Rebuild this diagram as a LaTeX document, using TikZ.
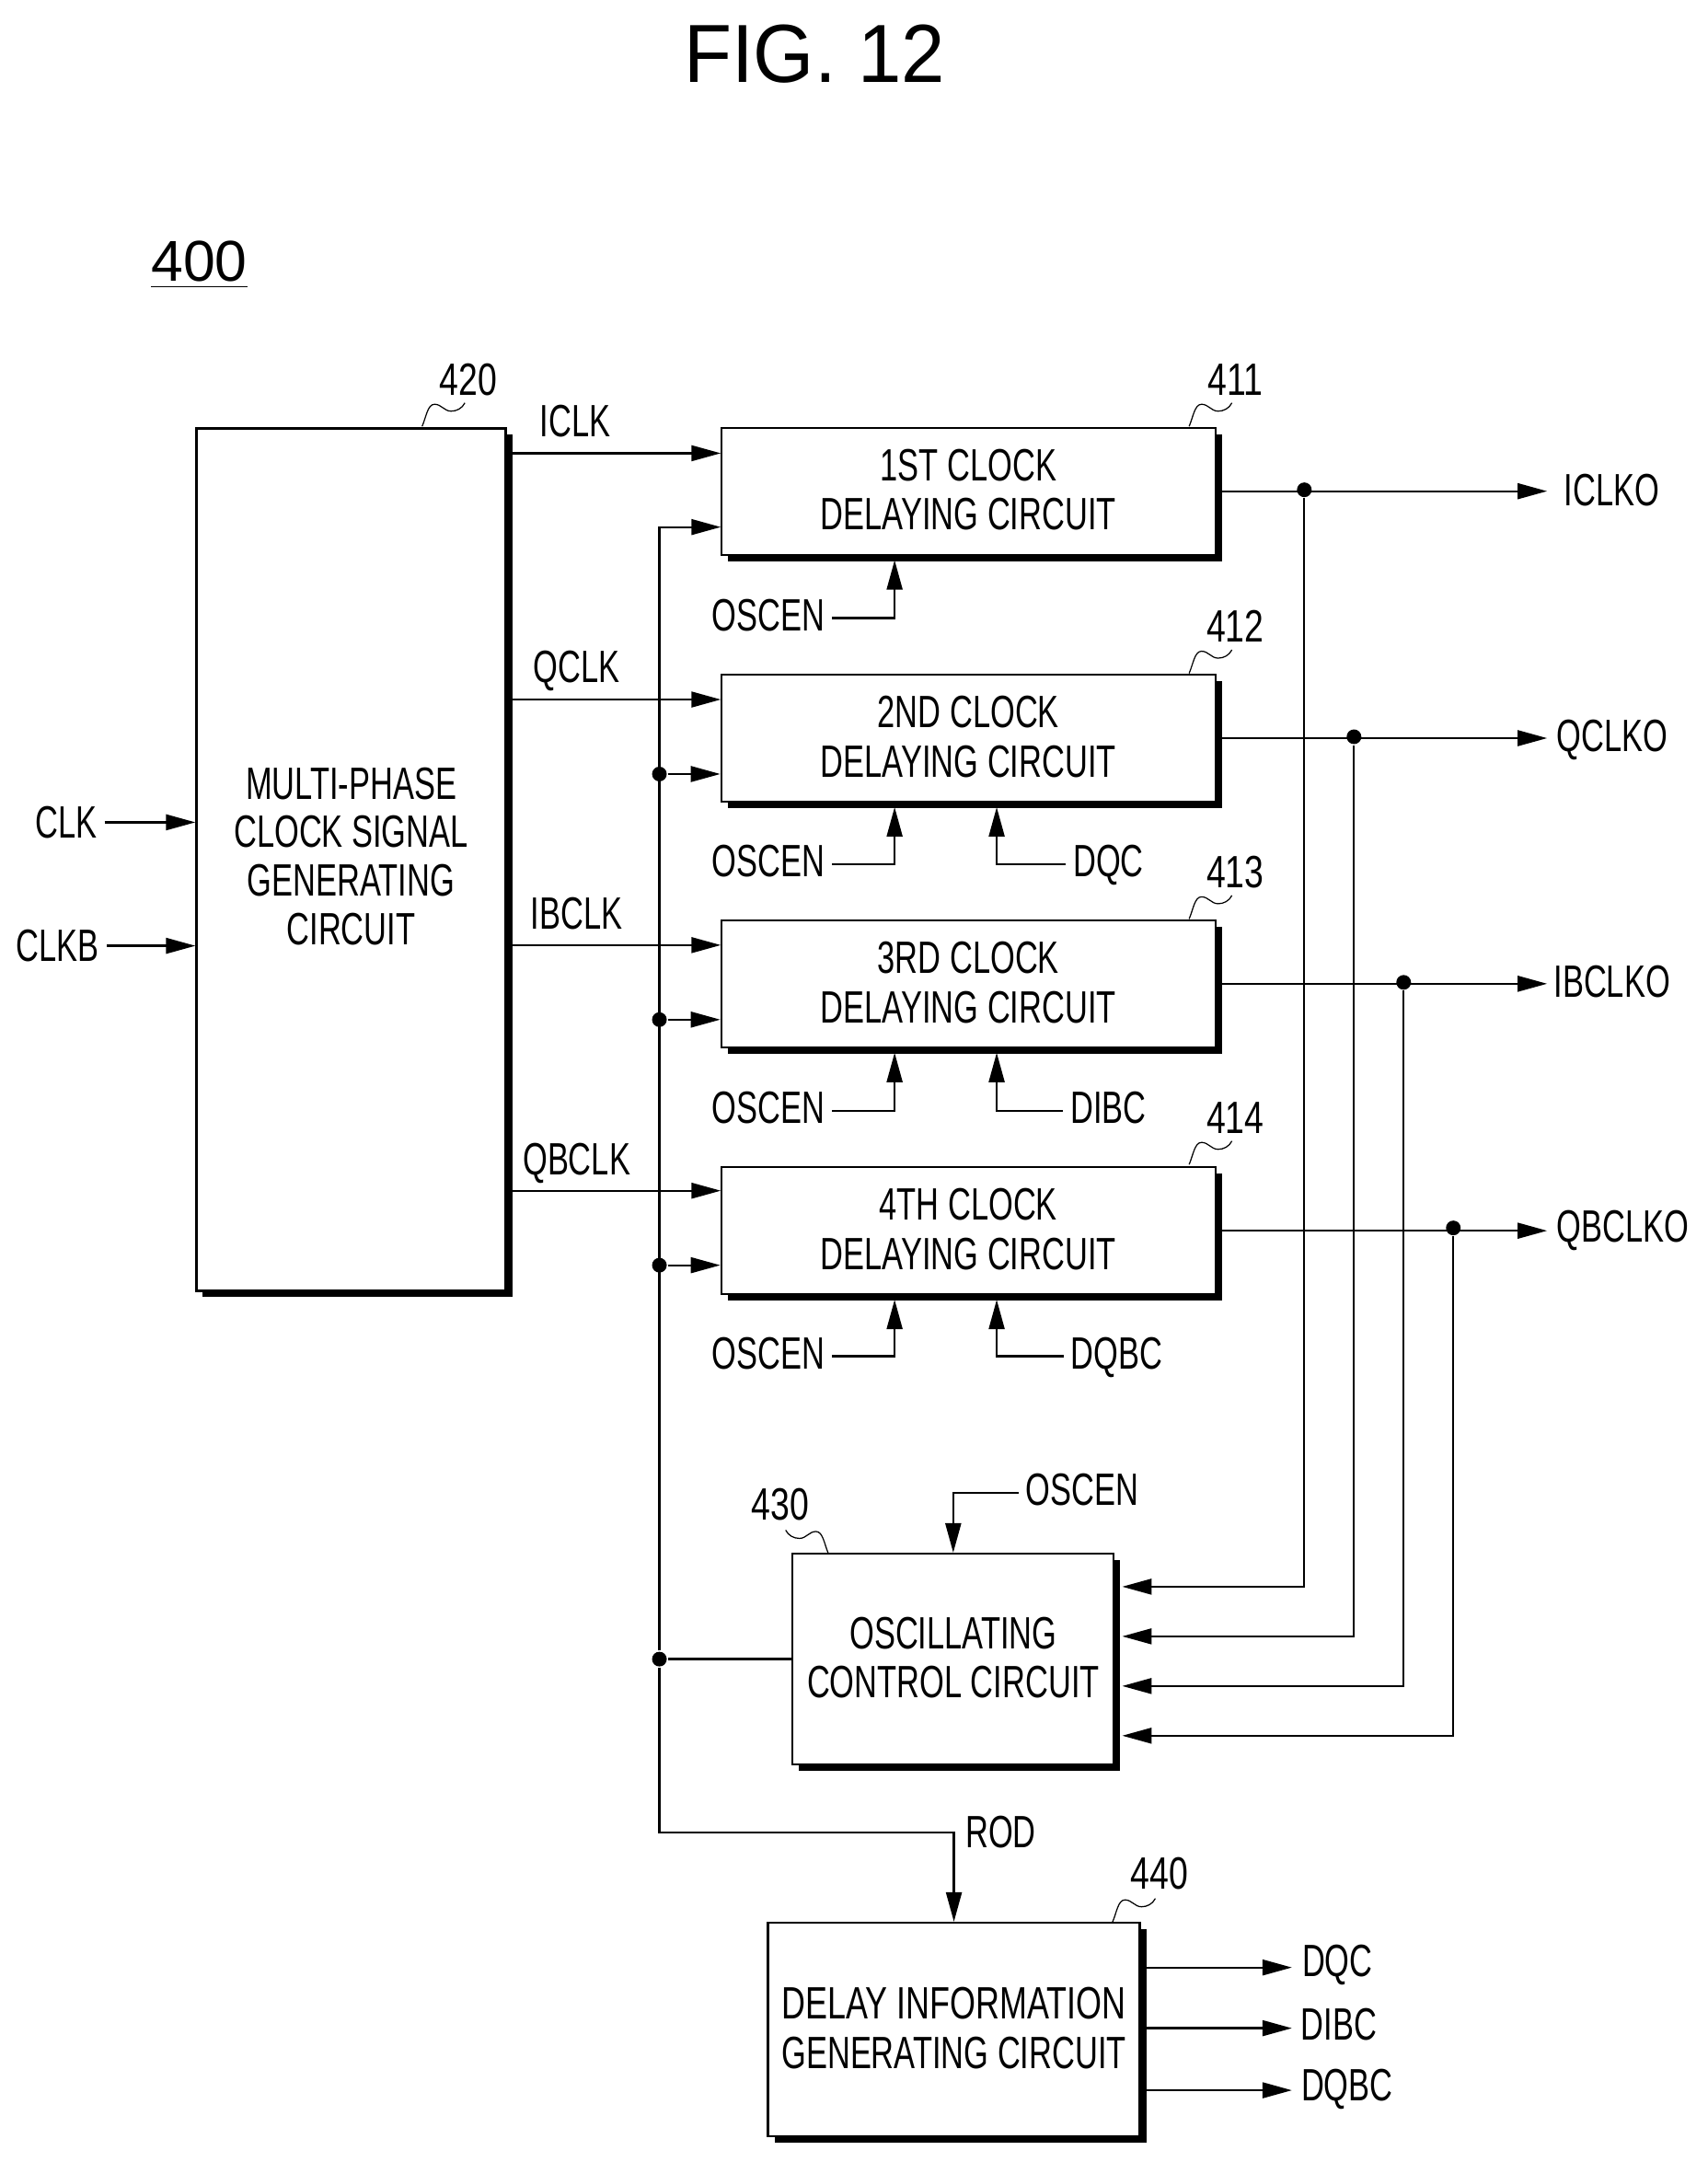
\documentclass[tikz,border=0pt]{standalone}
\usepackage{fontspec}
\setmainfont[FakeStretch=0.7]{Liberation Sans}
\newfontfamily\figfont[FakeStretch=0.95]{Liberation Sans}
\newfontfamily\numfont{Liberation Sans}
\newfontfamily\reffont[FakeStretch=0.76]{Liberation Sans}
\usetikzlibrary{arrows.meta,shadows}
\newcommand{\leadcurve}{(0,0) .. controls (3,-7) and (4,-16) .. (9,-16) .. controls (14,-16) and (16,-11) .. (21,-11) .. controls (25,-11) and (29,-13) .. (31,-17)}
\begin{document}
\begin{tikzpicture}[x=0.1499mm, y=-0.1499mm, line width=0.65pt,
	>={Triangle[length=3.2mm,width=1.7mm]},
	sig/.style = {inner sep=2pt, text depth=0pt, font=\fontsize{14}{15}\selectfont},
	sigl/.style = {sig, text depth=2pt},
	num/.style = {inner sep=2pt, text depth=0pt, font=\reffont\fontsize{14}{15}\selectfont},
	main/.style = {draw, fill=white, inner sep=0pt, align=center, text depth=1pt, font=\fontsize{14}{15.3}\selectfont,
		drop shadow={shadow xshift=0.7mm, shadow yshift=-0.7mm, fill=black, opacity=1}},
	delay/.style = {main, minimum width=53.7mm, minimum height=13.8mm},
	dot/.style = {circle, fill, inner sep=0pt, minimum size=1.6mm},
	lead/.style = {line width=0.35pt}]

	\useasboundingbox (-0.5,0) rectangle (1237,1567);

	\node[font=\figfont\fontsize{25.5}{26}\selectfont] (fig) at (590,39) {FIG. 12};
	\node[font=\numfont\fontsize{17.8}{18}\selectfont] (sys) at (144,192) {\underline{400}};

	% blocks
	\node[main, minimum width=33.6mm, minimum height=93.7mm, text depth=2.2pt, font=\fontsize{14}{15}\selectfont] (mpc) at (254,623) {MULTI-PHASE\\CLOCK SIGNAL\\GENERATING\\CIRCUIT};
	\node[delay] (d1) at (701.5,356) {1ST CLOCK\\DELAYING CIRCUIT};
	\node[delay] (d2) at (701.5,535) {2ND CLOCK\\DELAYING CIRCUIT};
	\node[delay] (d3) at (701.5,713) {3RD CLOCK\\DELAYING CIRCUIT};
	\node[delay] (d4) at (701.5,892) {4TH CLOCK\\DELAYING CIRCUIT};
	\node[main, minimum width=34.9mm, minimum height=22.9mm] (osc) at (690.5,1202.5) {OSCILLATING\\CONTROL CIRCUIT};
	\node[main, minimum width=40.4mm, minimum height=23.2mm] (dig) at (691,1471) {{\addfontfeature{FakeStretch=0.73}DELAY INFORMATION}\\GENERATING CIRCUIT};

	% reference numbers
	\node[num] (n420) at (339,275) {420};
	\node[num] (n411) at (895,275) {411};
	\node[num] (n412) at (895,454) {412};
	\node[num] (n413) at (895,632) {413};
	\node[num] (n414) at (895,810) {414};
	\node[num] (n430) at (565,1090) {430};
	\node[num] (n440) at (840,1358) {440};
	\draw[lead, shift={(305.5,309)}] \leadcurve;
	\draw[lead, shift={(861.5,309)}] \leadcurve;
	\draw[lead, shift={(861.5,488)}] \leadcurve;
	\draw[lead, shift={(861.5,666)}] \leadcurve;
	\draw[lead, shift={(861.5,844)}] \leadcurve;
	\draw[lead, shift={(600,1126)}, xscale=-1] \leadcurve;
	\draw[lead, shift={(806,1393)}] \leadcurve;

	% signal names
	\node[sig] (clk) at (47.5,596) {CLK};
	\node[sig] (clkb) at (41.5,685.5) {CLKB};
	\node[sig] (iclk) at (416.5,305) {ICLK};
	\node[sig] (qclk) at (417.5,483) {QCLK};
	\node[sig] (ibclk) at (417.5,662) {IBCLK};
	\node[sig] (qbclk) at (417.5,840) {QBCLK};
	\node[sigl] (os1) at (556.5,448) {OSCEN};
	\node[sigl] (os2) at (556.5,626.5) {OSCEN};
	\node[sigl] (os3) at (556.5,805) {OSCEN};
	\node[sigl] (os4) at (556.5,983) {OSCEN};
	\node[sigl] (os5) at (784,1082) {OSCEN};
	\node[sigl] (dqc) at (803,626.5) {DQC};
	\node[sigl] (dibc) at (803,805) {DIBC};
	\node[sigl] (dqbc) at (809,983) {DQBC};
	\node[sig] (iclko) at (1168,355) {ICLKO};
	\node[sig] (qclko) at (1168,533) {QCLKO};
	\node[sig] (ibclko) at (1168,711) {IBCLKO};
	\node[sig] (qbclko) at (1176,889) {QBCLKO};
	\node[sig] (rod) at (725,1328) {ROD};
	\node[sig] (dqcout) at (969,1421) {DQC};
	\node[sig] (dibcout) at (970,1467) {DIBC};
	\node[sig] (dqbcout) at (976,1511) {DQBC};

	% junctions
	\node[dot] (j1) at (945,355) {};
	\node[dot] (j2) at (981,534) {};
	\node[dot] (j3) at (1017,712) {};
	\node[dot] (j4) at (1053,890) {};
	\node[dot] (b2) at (477.5,561) {};
	\node[dot] (b3) at (477.5,739) {};
	\node[dot] (b4) at (477.5,917) {};
	\node[dot] (b5) at (477.5,1202.5) {};

	% ports
	\coordinate (d1a) at (522,328.5);
	\coordinate (d2a) at (522,507);
	\coordinate (d3a) at (522,685);
	\coordinate (d4a) at (522,863);
	\coordinate (d1b) at (522,382);
	\coordinate (d1o) at (648,406);
	\coordinate (d2o) at (648,585);
	\coordinate (d3o) at (648,763);
	\coordinate (d4o) at (648,942);
	\coordinate (d2q) at (722,585);
	\coordinate (d3q) at (722,763);
	\coordinate (d4q) at (722,942);
	\coordinate (o1) at (813,1150);
	\coordinate (o2) at (813,1186);
	\coordinate (o3) at (813,1222);
	\coordinate (o4) at (813,1258);
	\coordinate (bend) at (477.5,1328);
	\coordinate (e1) at (936,1426);
	\coordinate (e2) at (936,1470);
	\coordinate (e3) at (936,1515);
	\coordinate (tip) at (1121,0);

	\draw[->] (clk.east) -- (clk.east -| mpc.west);
	\draw[->] (clkb.east) -- (clkb.east -| mpc.west);

	\draw[->] (mpc.east |- d1a) -- (d1a);
	\draw[->] (mpc.east |- d2a) -- (d2a);
	\draw[->] (mpc.east |- d3a) -- (d3a);
	\draw[->] (mpc.east |- d4a) -- (d4a);

	\draw[->] (b5) |- (d1b);
	\draw[->] (b2) -- (b2 -| d2.west);
	\draw[->] (b3) -- (b3 -| d3.west);
	\draw[->] (b4) -- (b4 -| d4.west);
	\draw (osc.west) -- (b5);
	\draw[->] (b5) -- (bend) -| (dig.north);

	\draw[->] (os1.east) -| (d1o);
	\draw[->] (os2.east) -| (d2o);
	\draw[->] (os3.east) -| (d3o);
	\draw[->] (os4.east) -| (d4o);
	\draw[->] (dqc.west) -| (d2q);
	\draw[->] (dibc.west) -| (d3q);
	\draw[->] (dqbc.west) -| (d4q);
	\draw[->] (os5.west) -| (osc.north);

	\draw[->] (d1.east) -- (d1.east -| tip);
	\draw[->] (d2.east) -- (d2.east -| tip);
	\draw[->] (d3.east) -- (d3.east -| tip);
	\draw[->] (d4.east) -- (d4.east -| tip);

	\draw[->] (j1) |- (o1);
	\draw[->] (j2) |- (o2);
	\draw[->] (j3) |- (o3);
	\draw[->] (j4) |- (o4);

	\draw[->] (dig.east |- e1) -- (e1);
	\draw[->] (dig.east |- e2) -- (e2);
	\draw[->] (dig.east |- e3) -- (e3);
\end{tikzpicture}
\end{document}
